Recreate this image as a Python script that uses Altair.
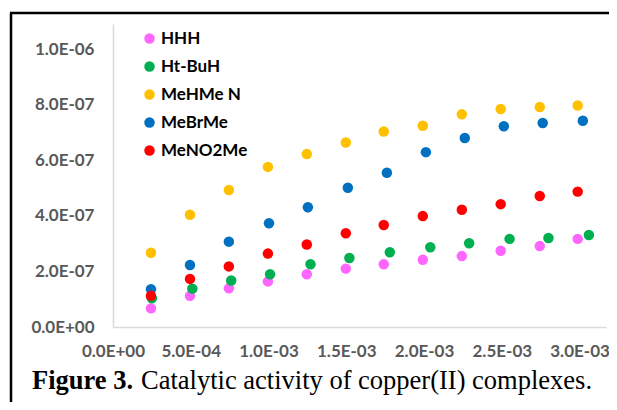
import altair as alt
import pandas as pd

series = ["HHH", "Ht-BuH", "MeHMe N", "MeBrMe", "MeNO2Me"]
colors = ["#FF66FF", "#00B050", "#FFC000", "#0070C0", "#FF0000"]

x_main = [0.244e-3, 0.495e-3, 0.745e-3, 0.996e-3, 1.246e-3, 1.497e-3, 1.741e-3, 1.992e-3, 2.243e-3, 2.493e-3, 2.744e-3, 2.988e-3]
x_green = [0.25e-3, 0.51e-3, 0.76e-3, 1.01e-3, 1.27e-3, 1.52e-3, 1.78e-3, 2.04e-3, 2.29e-3, 2.55e-3, 2.80e-3, 3.06e-3]
x_blue = [0.244e-3, 0.495e-3, 0.745e-3, 1.003e-3, 1.253e-3, 1.51e-3, 1.761e-3, 2.012e-3, 2.262e-3, 2.513e-3, 2.763e-3, 3.021e-3]

y_hhh = [0.067e-6, 0.112e-6, 0.139e-6, 0.164e-6, 0.190e-6, 0.210e-6, 0.226e-6, 0.242e-6, 0.255e-6, 0.274e-6, 0.291e-6, 0.317e-6]
y_htbuh = [0.103e-6, 0.138e-6, 0.167e-6, 0.190e-6, 0.226e-6, 0.248e-6, 0.269e-6, 0.287e-6, 0.301e-6, 0.317e-6, 0.320e-6, 0.331e-6]
y_mehme = [0.267e-6, 0.404e-6, 0.493e-6, 0.576e-6, 0.622e-6, 0.664e-6, 0.703e-6, 0.724e-6, 0.765e-6, 0.784e-6, 0.791e-6, 0.797e-6]
y_mebrme = [0.136e-6, 0.223e-6, 0.307e-6, 0.373e-6, 0.431e-6, 0.501e-6, 0.555e-6, 0.629e-6, 0.680e-6, 0.722e-6, 0.734e-6, 0.742e-6]
y_meno2me = [0.112e-6, 0.173e-6, 0.218e-6, 0.264e-6, 0.297e-6, 0.337e-6, 0.367e-6, 0.399e-6, 0.422e-6, 0.442e-6, 0.471e-6, 0.487e-6]

x_ticks = [0, 5e-4, 1e-3, 1.5e-3, 2e-3, 2.5e-3, 3e-3]
y_ticks = [0, 2e-7, 4e-7, 6e-7, 8e-7, 1e-6]

caption_bold = "Figure 3."
caption_rest = "Catalytic activity of copper(II) complexes."

xs = [x_main, x_green, x_main, x_blue, x_main]
ys = [y_hhh, y_htbuh, y_mehme, y_mebrme, y_meno2me]
rows = []
for name, xv, yv in zip(series, xs, ys):
    for a, b in zip(xv, yv):
        rows.append({"series": name, "x": a, "y": b})
df = pd.DataFrame(rows)

label_expr = "replace(replace(format(datum.value, '.1e'), 'e-', 'E-0'), 'e+', 'E+0')"

W, H = 493, 303

axis_common = dict(labelExpr=label_expr, title=None, ticks=False, grid=False,
                   domainColor="#d9d9d9", domainWidth=1.5,
                   labelFont="Lato", labelFontWeight="bold", labelFontSize=17,
                   labelColor="#595959", labelFlush=False, labelOverlap=False)

points = alt.Chart(df).mark_circle(size=110, opacity=1).encode(
    x=alt.X("x:Q", scale=alt.Scale(domain=[0, 3.17e-3], nice=False, zero=False),
            axis=alt.Axis(values=x_ticks, labelPadding=16, **axis_common)),
    y=alt.Y("y:Q", scale=alt.Scale(domain=[0, 1.09e-6], nice=False),
            axis=alt.Axis(values=y_ticks, labelPadding=19, **axis_common)),
    color=alt.Color("series:N", scale=alt.Scale(domain=series, range=colors),
                    sort=series,
                    legend=alt.Legend(orient="none", legendX=28, legendY=6, title=None,
                                      labelFont="Lato", labelFontWeight="bold",
                                      labelFontSize=17, labelColor="black",
                                      symbolType="circle", symbolSize=110,
                                      symbolStrokeWidth=0, symbolOpacity=1,
                                      rowPadding=10, labelOffset=3)),
)

one = pd.DataFrame({"a": [0]})

cap1 = alt.Chart(one).mark_text(align="left", baseline="alphabetic", font="Liberation Serif",
                                fontSize=26.5, fontWeight="bold", color="black").encode(
    x=alt.value(-81), y=alt.value(365), text=alt.value(caption_bold))
cap2 = alt.Chart(one).mark_text(align="left", baseline="alphabetic", font="Liberation Serif",
                                fontSize=26.5, color="black").encode(
    x=alt.value(28), y=alt.value(365), text=alt.value(caption_rest))

frame_v = alt.Chart(one).mark_rule(color="black", strokeWidth=2.5).encode(
    x=alt.value(-102), y=alt.value(-11), y2=alt.value(400))
frame_h = alt.Chart(one).mark_rule(color="black", strokeWidth=2.5).encode(
    y=alt.value(-11), x=alt.value(-103), x2=alt.value(520))

chart = alt.layer(points, cap1, cap2, frame_v, frame_h).properties(
    width=W, height=H,
    autosize=alt.AutoSizeParams(type="none"),
    padding={"left": 105, "top": 16, "right": 3, "bottom": 75},
    background="white",
).configure_view(stroke=None)

chart.save("out.html", embed_options={"renderer": "svg", "actions": False})
